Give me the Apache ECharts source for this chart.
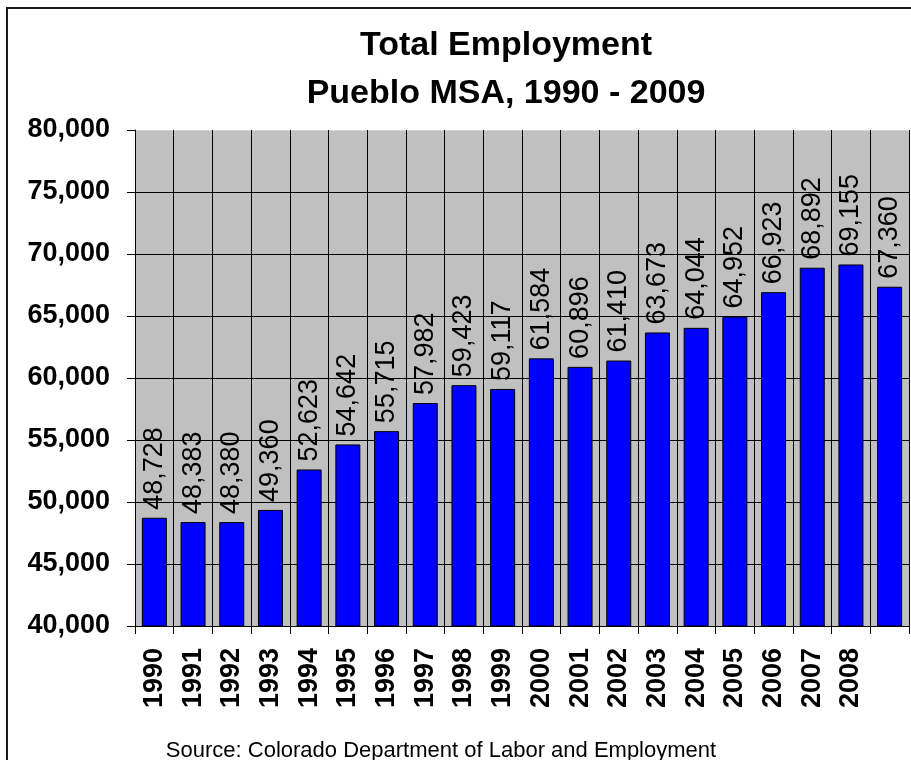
<!DOCTYPE html>
<html>
<head>
<meta charset="utf-8">
<script src="https://cdn.jsdelivr.net/npm/echarts@6/dist/echarts.min.js"></script>
<style>
  html, body { margin: 0; padding: 0; background: #fff; }
  #chart { width: 911px; height: 760px; }
</style>
</head>
<body>
<div id="chart"></div>
<script>
// Annual total employment, Pueblo MSA
const years = ['1990', '1991', '1992', '1993', '1994', '1995', '1996', '1997', '1998', '1999',
               '2000', '2001', '2002', '2003', '2004', '2005', '2006', '2007', '2008', '2009'];
const employment = [48728, 48383, 48380, 49360, 52623, 54642, 55715, 57982, 59423, 59117,
                    61584, 60896, 61410, 63673, 64044, 64952, 66923, 68892, 69155, 67360];
// Category labels printed under the axis (the final year is left unlabelled)
const tickLabels = ['1990', '1991', '1992', '1993', '1994', '1995', '1996', '1997', '1998', '1999',
                    '2000', '2001', '2002', '2003', '2004', '2005', '2006', '2007', '2008'];
const yMin = 40000, yMax = 80000, yStep = 5000;

const FONT = 'Arial, "Liberation Sans", sans-serif';
const fmt = v => Number(v).toLocaleString('en-US');

const chart = echarts.init(document.getElementById('chart'), null, { renderer: 'canvas' });

// Horizontal grid colours: black lines, lighter edge at the top of the plot
const nTicks = (yMax - yMin) / yStep + 1;
const hLineColors = [];
for (let i = 0; i < nTicks; i++) hLineColors.push(i === nTicks - 1 ? '#d4d4d4' : '#000000');

chart.setOption({
  animation: false,
  backgroundColor: '#ffffff',
  title: [
    {
      text: 'Total Employment\nPueblo MSA, 1990 - 2009',
      left: 501, top: 17, textAlign: 'center',
      textStyle: { fontFamily: FONT, fontSize: 34, fontWeight: 'bold', color: '#000', lineHeight: 48 }
    },
    {
      text: 'Source: Colorado Department of Labor and Employment',
      left: 436, top: 735, textAlign: 'center',
      textStyle: { fontFamily: FONT, fontSize: 22, fontWeight: 'normal', color: '#000' }
    }
  ],
  graphic: [
    {
      type: 'rect', z: -1, silent: true,
      shape: { x: 7, y: 8, width: 940, height: 790 },
      style: { fill: 'none', stroke: '#1a1a1a', lineWidth: 2 }
    }
  ],
  grid: { left: 135, top: 130, right: 2, bottom: 134, show: true, backgroundColor: '#c0c0c0', borderWidth: 0 },
  xAxis: {
    type: 'category',
    data: years,
    boundaryGap: true,
    axisLine: { show: true, lineStyle: { color: '#000', width: 1 } },
    axisTick: { show: true, length: 8, alignWithLabel: false, interval: 0, lineStyle: { color: '#000' } },
    splitLine: { show: true, interval: 0, lineStyle: { color: '#000', width: 1 } },
    axisLabel: {
      interval: 0, rotate: 90, margin: 22,
      padding: [0, 0, 8, 0],
      fontFamily: FONT, fontSize: 27, fontWeight: 'bold', color: '#000',
      formatter: (v, i) => tickLabels[i] !== undefined ? tickLabels[i] : ''
    }
  },
  yAxis: {
    type: 'value',
    min: yMin, max: yMax, interval: yStep,
    axisLine: { show: true, lineStyle: { color: '#000', width: 1 } },
    axisTick: { show: true, length: 8, lineStyle: { color: '#000' } },
    splitLine: { show: true, lineStyle: { color: hLineColors, width: 1 } },
    axisLabel: {
      margin: 25, fontFamily: FONT, fontSize: 27, fontWeight: 'bold', color: '#000',
      formatter: v => fmt(v)
    }
  },
  series: [
    {
      type: 'bar',
      data: employment,
      barWidth: 25,
      itemStyle: { color: '#0000ff', borderColor: '#000', borderWidth: 1 },
      label: {
        show: true, position: 'top', rotate: 90, distance: 8,
        align: 'left', verticalAlign: 'middle',
        fontFamily: FONT, fontSize: 27, fontWeight: 'normal', color: '#000',
        formatter: p => fmt(p.value)
      }
    }
  ]
});
</script>
</body>
</html>
